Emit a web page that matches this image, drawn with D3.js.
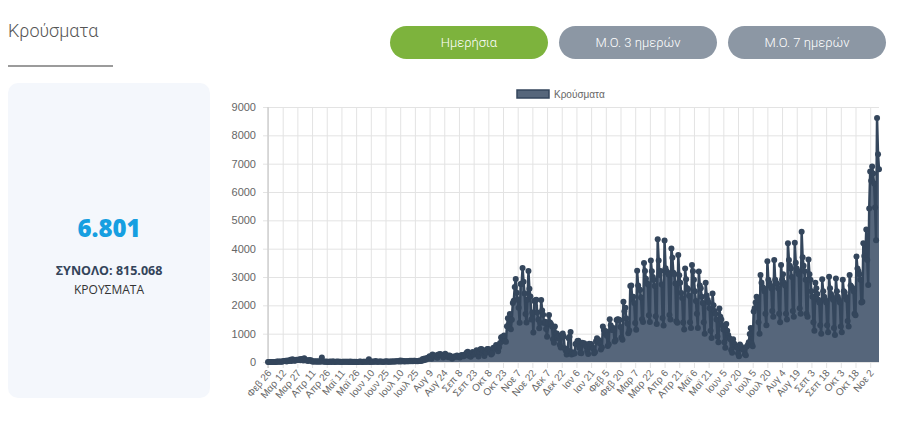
<!DOCTYPE html>
<html lang="el">
<head>
<meta charset="utf-8">
<script src="https://cdn.jsdelivr.net/npm/d3@7"></script>
<style>
  body { margin: 0; background: #fff; }
  #graf { width: 900px; height: 422px; }
  .axis text { font-family: "Liberation Sans", Arial, sans-serif; fill: #666; }
  .axis .domain { display: none; }
</style>
</head>
<body>
<div id="graf"></div>
<script>
// Ημερήσια κρούσματα, 26 Φεβ 2020 - 11 Νοε 2021 (μία γραμμή ανά μήνα)
const kroysmata = [
  1, 2, 0, 4,
  0, 0, 0, 2, 0, 22, 13, 20, 10, 16, 10, 19, 39, 38, 41, 21, 56, 31, 46, 77, 35, 94, 71, 48, 52, 78, 71, 74, 95, 60, 102,
  98, 50, 129, 60, 62, 56, 38, 71, 54, 62, 20, 21, 19, 15, 25, 10, 22, 25, 12, 21, 156, 18, 16, 12, 11, 15, 4, 9, 10, 16,
  3, 15, 14, 4, 7, 10, 15, 10, 5, 7, 4, 12, 10, 6, 5, 9, 5, 6, 2, 16, 2, 7, 3, 6, 4, 5, 0, 4, 5, 16, 7,
  2, 6, 7, 5, 13, 10, 8, 97, 2, 12, 8, 18, 9, 8, 35, 5, 10, 6, 22, 19, 9, 8, 13, 12, 15, 28, 10, 10, 14, 9,
  14, 20, 22, 15, 19, 24, 24, 23, 21, 57, 22, 41, 32, 20, 23, 26, 26, 27, 26, 42, 29, 40, 25, 46, 43, 28, 34, 30, 38, 57, 31,
  43, 110, 58, 121, 80, 124, 151, 126, 203, 150, 113, 262, 204, 190, 230, 217, 150, 269, 269, 284, 239, 228, 157, 199, 293, 242, 233, 168, 232, 223, 180,
  114, 169, 192, 196, 181, 233, 181, 193, 161, 226, 248, 217, 202, 264, 263, 338, 366, 218, 262, 181, 253, 352, 268, 270, 320, 411, 332, 197, 351, 453,
  460, 319, 416, 216, 354, 329, 460, 463, 418, 337, 263, 309, 495, 508, 464, 598, 505, 382, 525, 667, 865, 882, 841, 935, 733, 716, 1259, 1547, 1211, 1690, 1152,
  1494, 2080, 2166, 2646, 2930, 2448, 2203, 1914, 1384, 2752, 2752, 3320, 2835, 2421, 1698, 1395, 2198, 3210, 2581, 2311, 1498, 1747, 1044, 2152, 2179, 2199, 1747, 1492, 1193, 1380,
  2190, 1822, 1667, 1378, 1425, 1166, 889, 1382, 1660, 1395, 1339, 1250, 807, 677, 1250, 1002, 1006, 836, 918, 606, 513, 950, 1004, 900, 488, 408, 262, 402, 834, 894, 1060,
  262, 344, 302, 299, 633, 645, 741, 750, 501, 322, 306, 681, 632, 663, 597, 541, 386, 286, 648, 533, 637, 537, 466, 307, 357, 729, 838, 776, 771, 640, 444,
  509, 1250, 1130, 1008, 1086, 924, 569, 630, 1510, 1301, 1127, 1210, 1130, 720, 773, 1478, 1505, 1504, 1480, 1233, 863, 786, 2130, 1792, 1913, 1538, 1358, 1017,
  1110, 2680, 2702, 2209, 2300, 2078, 1377, 1137, 3220, 2702, 2564, 2537, 2280, 1507, 1412, 3490, 3215, 2935, 2791, 2737, 1647, 1412, 3580, 3200, 3000, 2893, 2678, 1614, 1343, 4330, 3586,
  3070, 3209, 2738, 1557, 1289, 4290, 3309, 3206, 3156, 3088, 1657, 1497, 4010, 3682, 3147, 3101, 2768, 1437, 1386, 3780, 3061, 2800, 2433, 2259, 1390, 1150, 3300, 2920, 2609, 2568,
  2341, 1400, 1200, 3420, 3200, 2900, 2500, 2150, 1700, 1200, 3190, 2700, 2600, 2300, 2080, 1400, 1000, 2800, 2350, 2200, 2100, 1900, 1100, 850, 2420, 2000, 1800, 1700, 1500, 900, 700,
  1890, 1600, 1500, 1300, 1150, 700, 500, 1340, 1100, 950, 850, 800, 420, 330, 800, 650, 600, 530, 500, 300, 200, 620, 560, 500, 440, 430, 270, 240, 550, 600,
  700, 990, 1200, 650, 560, 1780, 1900, 2100, 2300, 2200, 1400, 1000, 3070, 2800, 2650, 2600, 2500, 1700, 1300, 3560, 2900, 2800, 2700, 2600, 1800, 1600, 3600, 2900, 2800, 2750, 2600,
  1700, 1400, 3420, 2900, 3100, 2800, 2700, 1700, 1500, 4190, 3600, 3400, 3300, 3000, 1800, 1600, 4210, 3500, 3300, 3200, 3100, 1900, 1700, 4600, 3700, 3400, 3200, 2900, 1700, 1600, 3620,
  3100, 2900, 2500, 2300, 1400, 1100, 2800, 2600, 2400, 2200, 2100, 1300, 1000, 2920, 2500, 2300, 2200, 2100, 1300, 1050, 3010, 2600, 2400, 2300, 2200, 1200, 950, 2950, 2500, 2300,
  2200, 2100, 1250, 1050, 2900, 2500, 2450, 2300, 2200, 1450, 1250, 3070, 2700, 2650, 2600, 2500, 1700, 1650, 3720, 3300, 3200, 3100, 2900, 2100, 2130, 4190, 3740, 3650, 4680, 3600, 2720,
  5420, 6720, 6400, 6900, 6650, 6300, 5450, 4300, 8613, 7335, 6801
]

// Ετικέτες άξονα x (κάθε 15 ημέρες)
const etiketes = ["Φεβ 26", "Μαρ 12", "Μαρ 27", "Απρ 11", "Απρ 26", "Μαϊ 11", "Μαϊ 26", "Ιουν 10", "Ιουν 25",
  "Ιουλ 10", "Ιουλ 25", "Αυγ 9", "Αυγ 24", "Σεπ 8", "Σεπ 23", "Οκτ 8", "Οκτ 23", "Νοε 7", "Νοε 22", "Δεκ 7",
  "Δεκ 22", "Ιαν 6", "Ιαν 21", "Φεβ 5", "Φεβ 20", "Μαρ 7", "Μαρ 22", "Απρ 6", "Απρ 21", "Μαϊ 6", "Μαϊ 21",
  "Ιουν 5", "Ιουν 20", "Ιουλ 5", "Ιουλ 20", "Αυγ 4", "Αυγ 19", "Σεπ 3", "Σεπ 18", "Οκτ 3", "Οκτ 18", "Νοε 2"]

const yTimes = [0, 1000, 2000, 3000, 4000, 5000, 6000, 7000, 8000, 9000]

const koumpia = ["Ημερήσια", "Μ.Ο. 3 ημερών", "Μ.Ο. 7 ημερών"]

const synolo = 815068

const draw = () => {
  const graf = d3.select("#graf")

  const svg = graf
    .append("svg")
    .attr("width", 900)
    .attr("height", 422)

  const fmt = d3.formatLocale({ decimal: ",", thousands: ".", grouping: [3], currency: ["", "€"] }).format(",d")

  // Τίτλος
  svg.append("text")
    .attr("x", 8)
    .attr("y", 37)
    .style("font-family", "Roboto, sans-serif")
    .style("font-weight", 300)
    .style("font-size", "18px")
    .attr("fill", "#555")
    .text("Κρούσματα")

  svg.append("line")
    .attr("x1", 8).attr("x2", 113)
    .attr("y1", 66).attr("y2", 66)
    .attr("stroke", "#7a7a7a")
    .attr("stroke-width", 1.5)

  // Κουμπιά
  const btnX = [390, 559, 728]
  const btn = svg.selectAll("g.btn")
    .data(koumpia)
    .join("g")
    .classed("btn", true)
    .attr("transform", (d, i) => `translate(${btnX[i]}, 26)`)

  btn.append("rect")
    .attr("width", 158)
    .attr("height", 33)
    .attr("rx", 16.5)
    .attr("fill", (d, i) => i == 0 ? "#7db33d" : "#8c97a4")

  btn.append("text")
    .attr("x", 79)
    .attr("y", 21)
    .attr("text-anchor", "middle")
    .style("font-family", "Roboto, sans-serif")
    .style("font-weight", 300)
    .style("font-size", "13px")
    .attr("fill", "#fff")
    .text((d) => d)

  // Κάρτα
  svg.append("rect")
    .attr("x", 8).attr("y", 83)
    .attr("width", 202).attr("height", 315)
    .attr("rx", 10)
    .attr("fill", "#f4f7fc")

  svg.append("text")
    .attr("x", 109).attr("y", 237)
    .attr("text-anchor", "middle")
    .style("font-family", "'Open Sans', sans-serif")
    .style("font-weight", 800)
    .style("font-size", "24px")
    .attr("fill", "#169fe1")
    .text(fmt(kroysmata[kroysmata.length - 1]))

  svg.append("text")
    .attr("x", 109).attr("y", 275)
    .attr("text-anchor", "middle")
    .style("font-family", "'Open Sans', sans-serif")
    .style("font-weight", 700)
    .style("font-size", "12.5px")
    .attr("fill", "#33445a")
    .text("ΣΥΝΟΛΟ: " + fmt(synolo))

  svg.append("text")
    .attr("x", 109).attr("y", 294)
    .attr("text-anchor", "middle")
    .style("font-family", "'Open Sans', sans-serif")
    .style("font-size", "12px")
    .attr("fill", "#333")
    .text("ΚΡΟΥΣΜΑΤΑ")

  // Γράφημα
  const margins = { top: 107, right: 21, bottom: 60, left: 268 }
  const ancho = 900 - margins.left - margins.right
  const alto = 422 - margins.top - margins.bottom

  const x = d3.scaleLinear().domain([0, kroysmata.length - 1]).range([0, ancho])
  const y = d3.scaleLinear().domain([0, 9000]).range([alto, 0])

  const chart = svg.append("g")
    .attr("transform", `translate(${margins.left}, ${margins.top})`)

  const xTicks = d3.range(0, kroysmata.length, 15)

  const xAxis = d3.axisBottom(x)
    .tickValues(xTicks)
    .tickSize(-alto - 6)
    .tickPadding(0)
    .tickFormat((d) => etiketes[d / 15])

  const yAxis = d3.axisLeft(y)
    .tickValues(yTimes)
    .tickSize(-ancho - 5)
    .tickPadding(7)
    .tickFormat(d3.format("d"))

  const xAxisGroup = chart.append("g")
    .attr("transform", `translate(0, ${alto + 6})`)
    .classed("axis", true)
    .call(xAxis)

  xAxisGroup.selectAll("line").attr("stroke", "#e3e3e3")
  xAxisGroup.selectAll("text")
    .style("font-size", "10px")
    .attr("text-anchor", "end")
    .attr("dy", "0.35em")
    .attr("y", 0)
    .attr("transform", "translate(1, 3) rotate(-50)")

  const yAxisGroup = chart.append("g")
    .attr("transform", "translate(-5, 0)")
    .classed("axis", true)
    .call(yAxis)

  yAxisGroup.selectAll("line").attr("stroke", "#e3e3e3")
  yAxisGroup.selectAll("text").style("font-size", "11px")

  chart.append("line")
    .attr("x1", 0).attr("x2", 0)
    .attr("y1", 0).attr("y2", alto + 6)
    .attr("stroke", "#d0d0d0")
    .attr("stroke-width", 1.5)

  // Περιοχή, γραμμή, σημεία
  const area = d3.area()
    .x((d, i) => x(i))
    .y0(alto)
    .y1((d) => y(d))

  chart.append("path")
    .datum(kroysmata)
    .attr("fill", "#56667b")
    .attr("d", area)

  chart.append("path")
    .datum(kroysmata)
    .attr("fill", "none")
    .attr("stroke", "#34465c")
    .attr("stroke-width", 2.5)
    .attr("stroke-linejoin", "round")
    .attr("d", d3.line().x((d, i) => x(i)).y((d) => y(d)))

  chart.selectAll("circle")
    .data(kroysmata)
    .join("circle")
    .attr("cx", (d, i) => x(i))
    .attr("cy", (d) => y(d))
    .attr("r", 3)
    .attr("fill", "#34465c")

  // Υπόμνημα
  svg.append("rect")
    .attr("x", 517).attr("y", 90)
    .attr("width", 32).attr("height", 8)
    .attr("fill", "#56667b")
    .attr("stroke", "#34465c")
    .attr("stroke-width", 1.5)

  svg.append("text")
    .attr("x", 554).attr("y", 98)
    .style("font-family", "'Liberation Sans', Arial, sans-serif")
    .style("font-size", "10px")
    .attr("fill", "#666")
    .text("Κρούσματα")
}

draw()
</script>
</body>
</html>
